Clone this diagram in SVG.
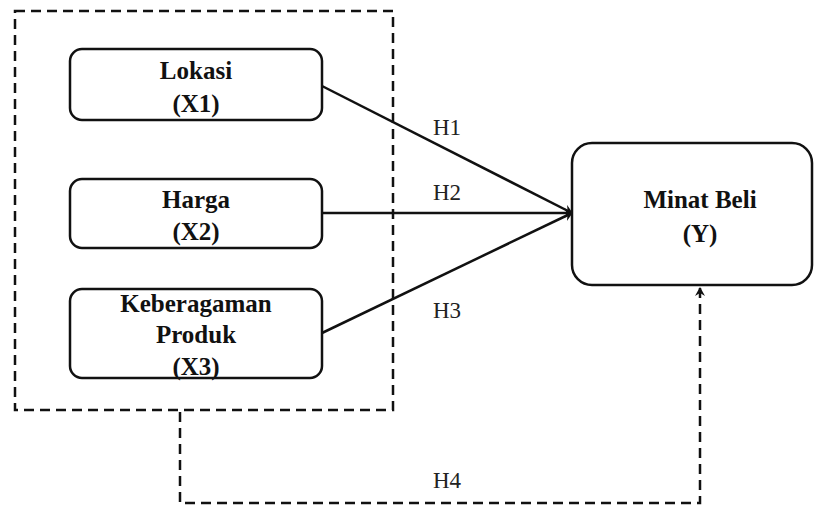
<svg xmlns="http://www.w3.org/2000/svg" width="815" height="508" viewBox="0 0 815 508">
<style>
.box{fill:#fff;stroke:#111;stroke-width:2.5}
.lbl{font-family:"Liberation Serif","Times New Roman",serif;font-weight:bold;font-size:25px;fill:#111;text-anchor:middle}
.h{font-family:"Liberation Serif","Times New Roman",serif;font-size:23px;fill:#222}
.solid{stroke:#111;stroke-width:2.5;fill:none}
.dash{stroke:#111;stroke-width:2.5;fill:none;stroke-dasharray:10 6}
</style>
<defs>
<marker id="arr" markerWidth="10" markerHeight="10" refX="8" refY="5" orient="auto" markerUnits="userSpaceOnUse">
<path d="M0,0 L9,5 L0,10 L3,5 Z" fill="#111"/>
</marker>
</defs>
<rect width="815" height="508" fill="#fff"/>
<g id="group-x">
<rect x="15" y="11" width="378" height="399" class="dash"/>
</g>
<g id="connectors">
<line x1="322" y1="86" x2="572" y2="213" class="solid" marker-end="url(#arr)"/>
<line x1="322" y1="213" x2="572" y2="213" class="solid" marker-end="url(#arr)"/>
<line x1="322" y1="333" x2="572" y2="213" class="solid" marker-end="url(#arr)"/>
<path d="M180,412 V503 H700 V288" class="dash" marker-end="url(#arr)"/>
<text x="433" y="135" class="h">H1</text>
<text x="433" y="200" class="h">H2</text>
<text x="433" y="318" class="h">H3</text>
<text x="433" y="488" class="h">H4</text>
</g>
<g id="x1">
<rect x="70" y="49" width="252" height="71" rx="12" class="box"/>
<text x="196" y="79" class="lbl">Lokasi</text>
<text x="196" y="112" class="lbl">(X1)</text>
</g>
<g id="x2">
<rect x="70" y="179" width="252" height="69" rx="12" class="box"/>
<text x="196" y="208" class="lbl">Harga</text>
<text x="196" y="240" class="lbl">(X2)</text>
</g>
<g id="x3">
<rect x="70" y="289" width="252" height="89" rx="12" class="box"/>
<text x="196" y="312" class="lbl">Keberagaman</text>
<text x="196" y="343" class="lbl">Produk</text>
<text x="196" y="375" class="lbl">(X3)</text>
</g>
<g id="y">
<rect x="572" y="143" width="240" height="142" rx="20" class="box"/>
<text x="700" y="208" class="lbl">Minat Beli</text>
<text x="700" y="242" class="lbl">(Y)</text>
</g>
</svg>
